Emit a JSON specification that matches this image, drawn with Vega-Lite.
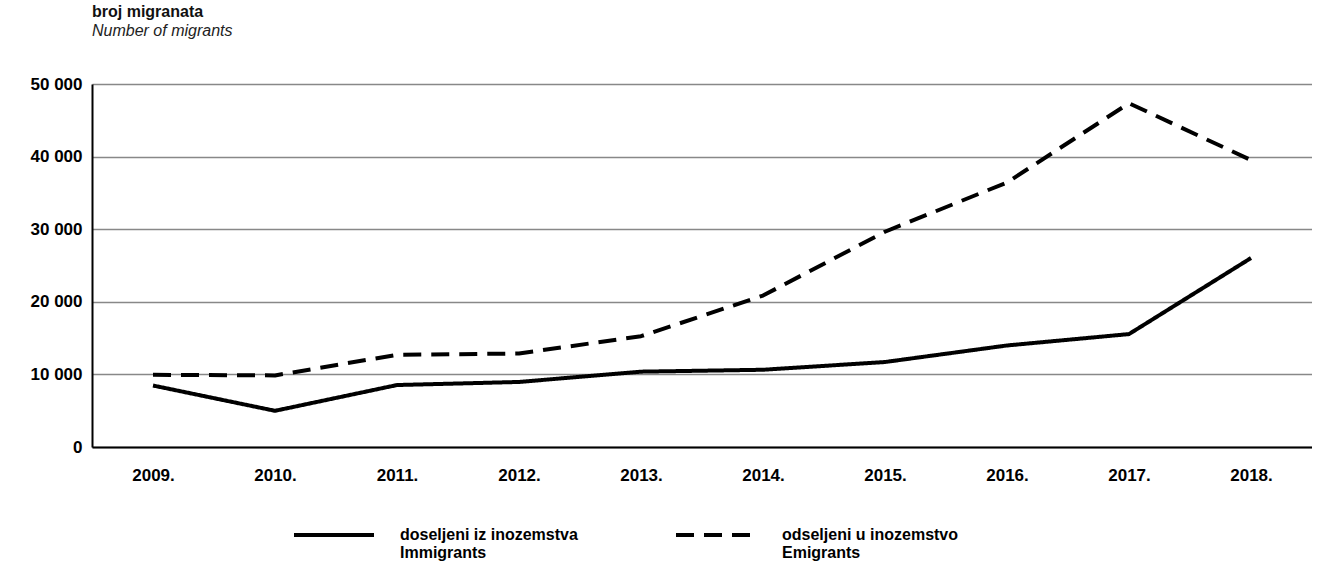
{
  "$schema": "https://vega.github.io/schema/vega-lite/v6.json",
  "width": 1220,
  "height": 363,
  "padding": {"left": 30, "top": 4, "right": 0, "bottom": 0},
  "autosize": {"type": "pad"},
  "config": {
    "font": "Liberation Sans",
    "view": {"stroke": null},
    "locale": {"number": {"decimal": ",", "thousands": " ", "grouping": [3], "currency": ["", ""]}}
  },
  "title": {
    "text": "broj migranata",
    "subtitle": "Number of migrants",
    "anchor": "start",
    "frame": "group",
    "fontSize": 16,
    "fontWeight": "bold",
    "subtitleFontSize": 16,
    "subtitleFontStyle": "italic",
    "subtitlePadding": 3,
    "offset": 36,
    "color": "#111",
    "subtitleColor": "#222"
  },
  "data": {
    "values": [
      {"year": "2009.", "series": "doseljeni iz inozemstva", "value": 8468},
      {"year": "2010.", "series": "doseljeni iz inozemstva", "value": 4985},
      {"year": "2011.", "series": "doseljeni iz inozemstva", "value": 8534},
      {"year": "2012.", "series": "doseljeni iz inozemstva", "value": 8959},
      {"year": "2013.", "series": "doseljeni iz inozemstva", "value": 10378},
      {"year": "2014.", "series": "doseljeni iz inozemstva", "value": 10638},
      {"year": "2015.", "series": "doseljeni iz inozemstva", "value": 11706},
      {"year": "2016.", "series": "doseljeni iz inozemstva", "value": 13985},
      {"year": "2017.", "series": "doseljeni iz inozemstva", "value": 15553},
      {"year": "2018.", "series": "doseljeni iz inozemstva", "value": 26029},
      {"year": "2009.", "series": "odseljeni u inozemstvo", "value": 9940},
      {"year": "2010.", "series": "odseljeni u inozemstvo", "value": 9860},
      {"year": "2011.", "series": "odseljeni u inozemstvo", "value": 12699},
      {"year": "2012.", "series": "odseljeni u inozemstvo", "value": 12877},
      {"year": "2013.", "series": "odseljeni u inozemstvo", "value": 15262},
      {"year": "2014.", "series": "odseljeni u inozemstvo", "value": 20858},
      {"year": "2015.", "series": "odseljeni u inozemstvo", "value": 29651},
      {"year": "2016.", "series": "odseljeni u inozemstvo", "value": 36436},
      {"year": "2017.", "series": "odseljeni u inozemstvo", "value": 47352},
      {"year": "2018.", "series": "odseljeni u inozemstvo", "value": 39515}
    ]
  },
  "mark": {"type": "line", "interpolate": "linear", "strokeWidth": 4, "color": "#000", "strokeCap": "butt", "strokeJoin": "round"},
  "encoding": {
    "x": {
      "field": "year",
      "type": "ordinal",
      "scale": {"type": "point", "padding": 0.5},
      "axis": {
        "title": null,
        "labelAngle": 0,
        "labelFontSize": 17,
        "labelFontWeight": "bold",
        "labelColor": "#000",
        "labelPadding": 20,
        "ticks": false,
        "domainColor": "#000",
        "domainWidth": 2,
        "grid": false
      }
    },
    "y": {
      "field": "value",
      "type": "quantitative",
      "scale": {"domain": [0, 50000], "nice": false},
      "axis": {
        "title": null,
        "values": [0, 10000, 20000, 30000, 40000, 50000],
        "format": ",d",
        "labelFontSize": 17,
        "labelFontWeight": "bold",
        "labelColor": "#000",
        "labelPadding": 10,
        "ticks": false,
        "domainColor": "#000",
        "domainWidth": 2,
        "gridColor": "#888",
        "gridWidth": 1.5
      }
    },
    "strokeDash": {
      "field": "series",
      "type": "nominal",
      "scale": {"domain": ["doseljeni iz inozemstva", "odseljeni u inozemstvo"], "range": [[1, 0], [18, 10]]},
      "legend": {
        "title": null,
        "orient": "none",
        "direction": "horizontal",
        "legendX": 200,
        "legendY": 409,
        "symbolType": "stroke",
        "symbolSize": 6400,
        "symbolStrokeWidth": 4,
        "symbolStrokeColor": "#000",
        "labelFontSize": 16,
        "labelFontWeight": "bold",
        "labelColor": "#000",
        "labelOffset": 24,
        "labelLimit": 300,
        "columnPadding": 90,
        "labelExpr": "datum.label == 'doseljeni iz inozemstva' ? ['doseljeni iz inozemstva', 'Immigrants'] : ['odseljeni u inozemstvo', 'Emigrants']"
      }
    }
  }
}
